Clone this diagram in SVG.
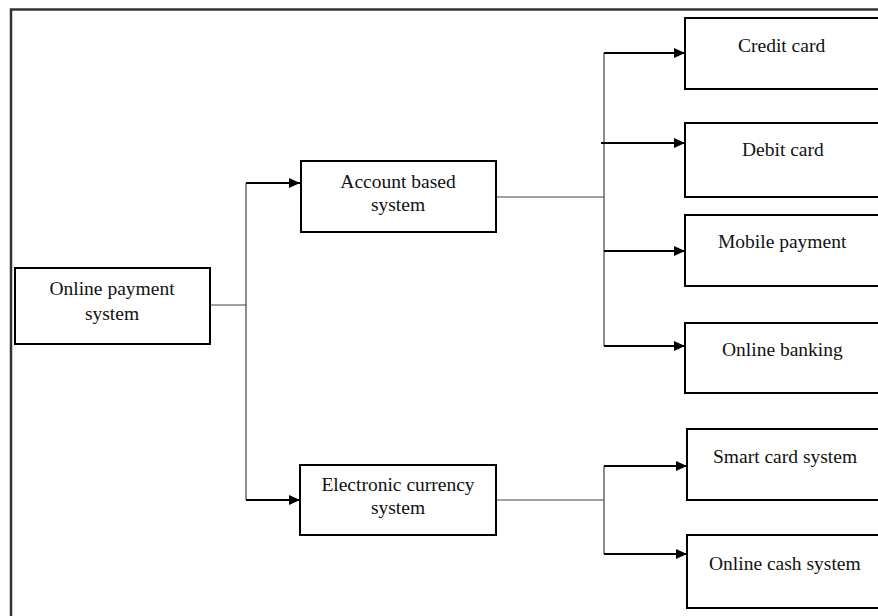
<svg xmlns="http://www.w3.org/2000/svg" width="878" height="616" viewBox="0 0 878 616">
<style>
.box{fill:#fff;stroke:#000;stroke-width:2}
.t{font-family:"Liberation Serif","Times New Roman",serif;font-size:19.5px;fill:#111}
.thin{fill:none;stroke:#444;stroke-width:1.2}
.arr{fill:none;stroke:#000;stroke-width:2;marker-end:url(#ah)}
</style>
<defs>
<marker id="ah" markerUnits="userSpaceOnUse" markerWidth="12" markerHeight="12" refX="11" refY="6" orient="auto">
<path d="M0,1 L11,6 L0,11 Z" fill="#000"/>
</marker>
</defs>
<rect width="878" height="616" fill="#fff"/>
<path d="M11,616 L11,9.5 L878,9.5" fill="none" stroke="#333" stroke-width="2.5"/>
<g id="connectors">
<path class="thin" d="M210,305 L246,305 M246,183 L246,500"/>
<path class="arr" d="M246,183 L300,183"/>
<path class="arr" d="M246,500 L300,500"/>
<path class="thin" d="M497,197 L604,197 M604,53 L604,346"/>
<path class="arr" d="M604,53 L685,53"/>
<path class="arr" d="M601,143 L685,143"/>
<path class="arr" d="M604,251 L685,251"/>
<path class="arr" d="M604,346 L685,346"/>
<path class="thin" d="M496,500 L604,500 M604,466 L604,554"/>
<path class="arr" d="M604,466 L687,466"/>
<path class="arr" d="M604,554 L687,554"/>
</g>
<g id="online-payment-system">
<rect class="box" x="15" y="268" width="195" height="76"/>
<text class="t" x="112" y="295" text-anchor="middle">Online payment</text>
<text class="t" x="112" y="320" text-anchor="middle">system</text>
</g>
<g id="account-based-system">
<rect class="box" x="301" y="161" width="195" height="71"/>
<text class="t" x="398" y="188" text-anchor="middle">Account based</text>
<text class="t" x="398" y="211" text-anchor="middle">system</text>
</g>
<g id="electronic-currency-system">
<rect class="box" x="300" y="465" width="196" height="70"/>
<text class="t" x="398" y="491" text-anchor="middle">Electronic currency</text>
<text class="t" x="398" y="514" text-anchor="middle">system</text>
</g>
<g id="credit-card">
<rect class="box" x="685" y="18" width="220" height="71"/>
<text class="t" x="738" y="52">Credit card</text>
</g>
<g id="debit-card">
<rect class="box" x="685" y="123" width="220" height="74"/>
<text class="t" x="742" y="156">Debit card</text>
</g>
<g id="mobile-payment">
<rect class="box" x="685" y="215" width="220" height="71"/>
<text class="t" x="718" y="248">Mobile payment</text>
</g>
<g id="online-banking">
<rect class="box" x="685" y="323" width="220" height="70"/>
<text class="t" x="722" y="356">Online banking</text>
</g>
<g id="smart-card-system">
<rect class="box" x="687" y="429" width="220" height="71"/>
<text class="t" x="713" y="463">Smart card system</text>
</g>
<g id="online-cash-system">
<rect class="box" x="687" y="535" width="220" height="73"/>
<text class="t" x="709" y="570">Online cash system</text>
</g>
</svg>
